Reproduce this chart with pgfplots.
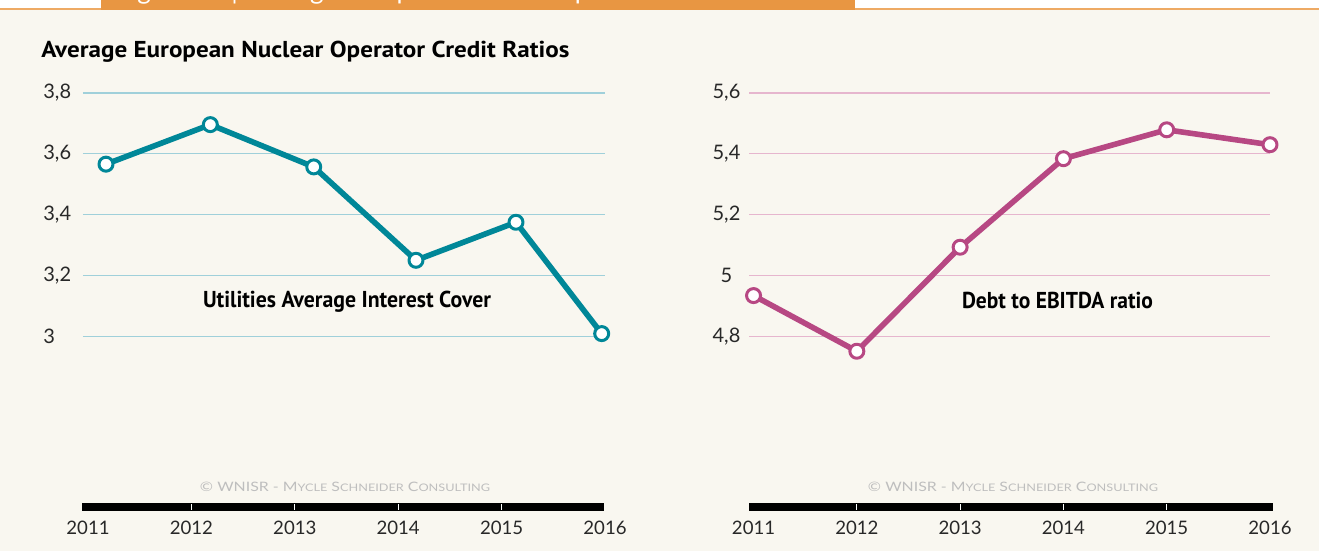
\documentclass[border=0pt]{standalone}
\usepackage{fontspec}
\setmainfont{Lato}
\newfontfamily\ptsans{PT Sans}
\usepackage{graphicx}
\usepackage{pgfplots}
\pgfplotsset{compat=1.18}
\definecolor{bgc}{RGB}{249,247,240}
\definecolor{orangec}{RGB}{232,150,66}
\definecolor{orangeline}{RGB}{238,170,100}
\definecolor{tealc}{RGB}{0,135,152}
\definecolor{tealgrid}{RGB}{160,208,218}
\definecolor{magc}{RGB}{183,72,131}
\definecolor{pinkgrid}{RGB}{230,182,206}
\definecolor{copyc}{RGB}{190,190,190}
\definecolor{tickc}{RGB}{40,40,40}
\newcommand{\copyr}{\resizebox{145pt}{\height}{\fontsize{6.5}{6.5}\selectfont \textcopyright{} WNISR - M{\fontsize{5.2}{5}\selectfont YCLE} S{\fontsize{5.2}{5}\selectfont CHNEIDER} C{\fontsize{5.2}{5}\selectfont ONSULTING}}}
\begin{document}
\begin{tikzpicture}
\fill[bgc] (0,0) rectangle (659.5pt,275.5pt);
\fill[white] (0,271.5pt) rectangle (659.5pt,275.5pt);
\fill[orangeline] (0,270.7pt) rectangle (659.5pt,271.6pt);
\fill[orangec] (50.5pt,270.6pt) rectangle (427.5pt,275.5pt);
\begin{scope}
\clip (50.5pt,270.6pt) rectangle (427.5pt,275.5pt);
\node[anchor=base west, inner sep=0pt, text=white, font=\fontsize{13}{13}\selectfont] at (58pt,275.8pt) {Figure 43 | Average European Nuclear Operator Credit Ratios};
\end{scope}
\node[anchor=base west, inner sep=0pt, text=black] at (20.5pt,246.5pt) {\resizebox{264pt}{\height}{\ptsans\bfseries\fontsize{11.5}{11.5}\selectfont Average European Nuclear Operator Credit Ratios}};

\begin{axis}[
  at={(41.5pt,22pt)}, anchor=south west, scale only axis,
  width=261pt, height=207pt,
  xmin=-0.0484, xmax=5, ymin=2.439, ymax=3.8,
  xtick={0,1,2,3,4,5},
  xticklabels={2011,2012,2013,2014,2015,2016},
  ytick={3,3.2,3.4,3.6,3.8},
  yticklabels={3,{3,2},{3,4},{3,6},{3,8}},
  ymajorgrids, grid style={tealgrid, line width=0.6pt},
  axis line style={draw=none}, major tick length=0pt,
  xticklabel style={anchor=center, yshift=-10.5pt, font=\fontsize{9.3}{9.3}\selectfont, text=tickc},
  yticklabel style={anchor=west, xshift=-20pt, inner sep=0pt, font=\fontsize{10}{10}\selectfont, text=tickc},
  clip=false,
]
\addplot[tealc, line width=2.8pt, line join=round, mark=*, mark size=3.5pt,
  mark options={fill=white, draw=tealc, line width=1.5pt}]
  coordinates {(0.174,3.566) (1.183,3.696) (2.183,3.557) (3.172,3.250) (4.139,3.375) (4.968,3.009)};
\draw[black, line width=4pt] (axis cs:-0.058,2.439) -- (axis cs:4.99,2.439);
\pgfplotsinvokeforeach{1,2,3,4}{
  \draw[white, line width=0.6pt] ([yshift=-1.4pt]axis cs:#1,2.439) -- ([yshift=1.4pt]axis cs:#1,2.439);
}
\end{axis}

\begin{axis}[
  at={(374.5pt,22pt)}, anchor=south west, scale only axis,
  width=260.5pt, height=207pt,
  xmin=-0.044, xmax=5, ymin=4.239, ymax=5.6,
  xtick={0,1,2,3,4,5},
  xticklabels={2011,2012,2013,2014,2015,2016},
  ytick={4.8,5,5.2,5.4,5.6},
  yticklabels={{4,8},5,{5,2},{5,4},{5,6}},
  ymajorgrids, grid style={pinkgrid, line width=0.6pt},
  axis line style={draw=none}, major tick length=0pt,
  xticklabel style={anchor=center, yshift=-10.5pt, font=\fontsize{9.3}{9.3}\selectfont, text=tickc},
  yticklabel style={anchor=center, xshift=-11.25pt, inner sep=0pt, font=\fontsize{10}{10}\selectfont, text=tickc},
  clip=false,
]
\addplot[magc, line width=2.8pt, line join=round, mark=*, mark size=3.5pt,
  mark options={fill=white, draw=magc, line width=1.5pt}]
  coordinates {(0,4.934) (1,4.751) (2,5.093) (3,5.384) (4,5.479) (5,5.430)};
\draw[black, line width=4pt] (axis cs:-0.044,4.239) -- (axis cs:5.03,4.239);
\pgfplotsinvokeforeach{1,2,3,4}{
  \draw[white, line width=0.6pt] ([yshift=-1.4pt]axis cs:#1,4.239) -- ([yshift=1.4pt]axis cs:#1,4.239);
}
\end{axis}

\node[anchor=base, inner sep=0pt, text=black] at (173.5pt,121.5pt) {\resizebox{144pt}{\height}{\ptsans\bfseries\fontsize{11.5}{11.5}\selectfont Utilities Average Interest Cover}};
\node[anchor=base, inner sep=0pt, text=black] at (528.75pt,121pt) {\resizebox{95.5pt}{\height}{\ptsans\bfseries\fontsize{11.5}{11.5}\selectfont Debt to EBITDA ratio}};
\node[inner sep=0pt, text=copyc] at (172.5pt,32pt) {\copyr};
\node[inner sep=0pt, text=copyc] at (506.5pt,32pt) {\copyr};
\end{tikzpicture}
\end{document}
